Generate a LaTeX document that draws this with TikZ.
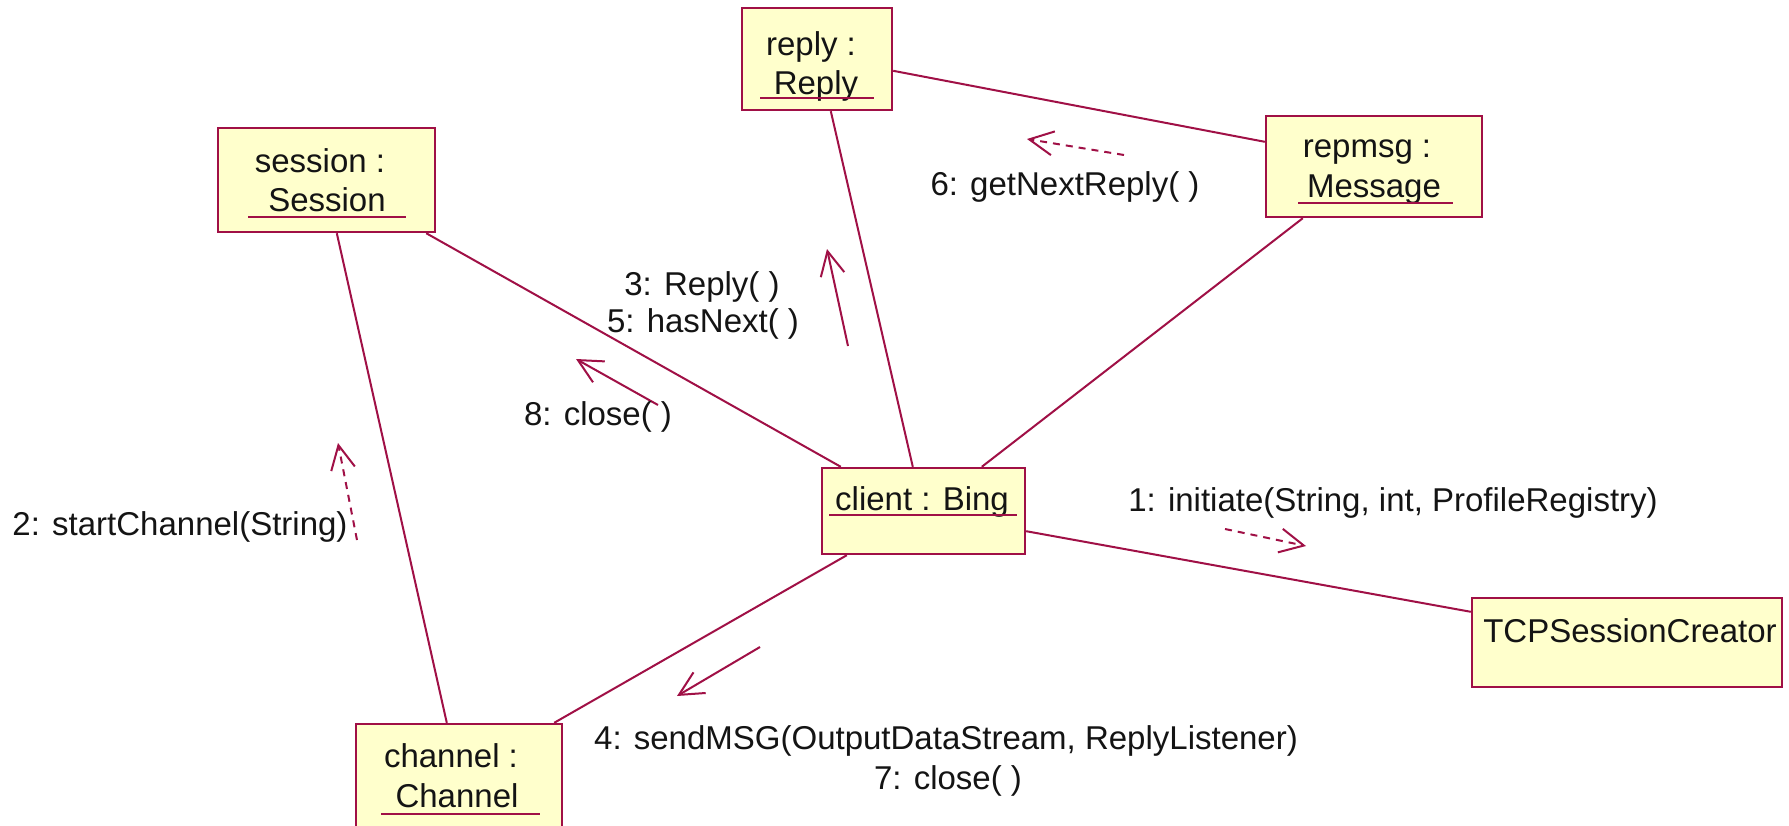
\documentclass[tikz,border=0pt]{standalone}
\usepackage{fontspec}
\setmainfont{Liberation Sans}
\usetikzlibrary{arrows.meta}
\definecolor{umlline}{RGB}{160,16,70}
\definecolor{umlfill}{RGB}{255,255,204}
\definecolor{umltext}{RGB}{20,20,20}
\begin{document}
\begin{tikzpicture}[x=1pt,y=-1pt,
  objbox/.style={draw=umlline, fill=umlfill, line width=2.4pt, inner sep=0pt},
  lbl/.style={font=\fontsize{33}{40}\selectfont, text=umltext, inner sep=0pt, anchor=base},
  uline/.style={draw=umlline, line width=2pt},
  conn/.style={draw=umlline, line width=2pt},
  msg/.style={draw=umlline, line width=2pt, -{Straight Barb[length=24pt,width=24pt]}},
  msgdash/.style={msg, dash pattern=on 7pt off 6pt}]
\fill[white] (0,0) rectangle (1789,825);
\useasboundingbox (0,0) rectangle (1789,825);

% object boxes
\node[objbox, minimum width=150pt, minimum height=102pt] (reply)   at (817,59)    {};
\node[objbox, minimum width=217pt, minimum height=104pt] (session) at (326.5,180) {};
\node[objbox, minimum width=216pt, minimum height=101pt] (repmsg)  at (1374,166.5) {};
\node[objbox, minimum width=203pt, minimum height=86pt]  (client)  at (923.5,511) {};
\node[objbox, minimum width=310pt, minimum height=89pt]  (tcp)     at (1627,642.5) {};
\node[objbox, minimum width=206pt, minimum height=146pt] (channel) at (459,797)   {};

% box captions
\node[lbl] (replyA) at (811,55)  {reply :};
\node[lbl] (replyB) at (816,94)  {Reply};
\draw[uline] (760,98) -- (874,98);
\node[lbl] (sessA) at (320,172) {session :};
\node[lbl] (sessB) at (327,211) {Session};
\draw[uline] (248,217) -- (406,217);
\node[lbl] (repA) at (1367,157) {repmsg :};
\node[lbl] (repB) at (1374,197) {Message};
\draw[uline] (1298,203) -- (1453,203);
\node[lbl] (cliA) at (922,510) {client : Bing};
\draw[uline] (829,515) -- (1017,515);
\node[lbl] (tcpA) at (1630,642) {TCPSessionCreator};
\node[lbl] (chA) at (451,767) {channel :};
\node[lbl] (chB) at (457,807) {Channel};
\draw[uline] (381,814) -- (540,814);

% links between objects
\draw[conn] ([xshift=120pt]session.south west) -- ([xshift=92pt]channel.north west);
\draw[conn] ([xshift=-10pt]session.south east) -- ([xshift=20pt]client.north west);
\draw[conn] ([xshift=90pt]reply.south west) -- ([xshift=92pt]client.north west);
\draw[conn] ([yshift=-64pt]reply.north east) -- ([yshift=-27pt]repmsg.north west);
\draw[conn] ([xshift=38pt]repmsg.south west) -- ([xshift=161pt]client.north west);
\draw[conn] ([yshift=24pt]client.south east) -- ([yshift=-15pt]tcp.north west);
\draw[conn] ([xshift=26pt]client.south west) -- ([xshift=-9pt]channel.north east);

% message arrows
\coordinate (m1a) at (1225,529); \coordinate (m1b) at (1306,546);
\coordinate (m2a) at (357,540);  \coordinate (m2b) at (338,443);
\coordinate (m3a) at (848,346);  \coordinate (m3b) at (827,249);
\coordinate (m4a) at (760,647);  \coordinate (m4b) at (677,696);
\coordinate (m6a) at (1124,155); \coordinate (m6b) at (1027,139);
\coordinate (m8a) at (658,405);  \coordinate (m8b) at (576,359);
\draw[msgdash] (m1a) -- (m1b);
\draw[msgdash] (m2a) -- (m2b);
\draw[msg] (m3a) -- (m3b);
\draw[msg] (m4a) -- (m4b);
\draw[msgdash] (m6a) -- (m6b);
\draw[msg] (m8a) -- (m8b);

% message labels
\node[lbl] (t1) at (1393,511) {1: initiate(String, int, ProfileRegistry)};
\node[lbl] (t2) at (180,535)  {2: startChannel(String)};
\node[lbl] (t3) at (702,295)  {3: Reply( )};
\node[lbl] (t5) at (703,332)  {5: hasNext( )};
\node[lbl] (t8) at (598,425)  {8: close( )};
\node[lbl] (t6) at (1065,195) {6: getNextReply( )};
\node[lbl] (t4) at (946,749)  {4: sendMSG(OutputDataStream, ReplyListener)};
\node[lbl] (t7) at (948,789)  {7: close( )};
\end{tikzpicture}
\end{document}
